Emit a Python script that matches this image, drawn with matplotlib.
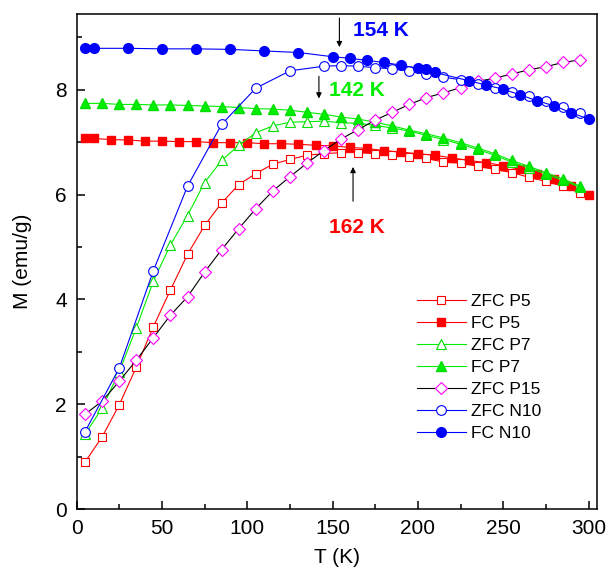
import numpy as np
import matplotlib.pyplot as plt

plt.rcParams['font.family'] = ['Liberation Sans', 'DejaVu Sans']

# temperatures (K)
t_zfc = [5, 15, 25, 35, 45, 55, 65, 75, 85, 95, 105, 115, 125, 135, 145,
         155, 165, 175, 185, 195, 205, 215, 225, 235, 245, 255, 265, 275, 285, 295]
t_fc_p5 = [5, 10, 20, 30, 40, 50, 60, 70, 80, 90, 100, 110, 120, 130, 140, 150,
           160, 170, 180, 190, 200, 210, 220, 230, 240, 250, 260, 270, 280, 290, 300]
t_fc_p7 = t_zfc
t_zfc_n10 = [5, 25, 45, 65, 85, 105, 125, 145, 155, 165, 175, 185, 195, 205,
             215, 225, 235, 245, 255, 265, 275, 285, 295]
t_fc_n10 = [5, 10, 30, 50, 70, 90, 110, 130, 150, 160, 170, 180, 190, 200, 205,
            210, 230, 240, 250, 260, 270, 280, 290, 300]

# magnetization (emu/g)
zfc_p5 = [0.90, 1.38, 1.99, 2.71, 3.48, 4.18, 4.86, 5.41, 5.84, 6.19, 6.40, 6.58,
          6.67, 6.75, 6.78, 6.80, 6.80, 6.78, 6.75, 6.72, 6.69, 6.62, 6.60, 6.54,
          6.48, 6.42, 6.33, 6.25, 6.16, 6.03]
fc_p5 = [7.07, 7.07, 7.05, 7.04, 7.02, 7.02, 7.01, 7.01, 6.99, 6.99, 6.99, 6.97,
         6.97, 6.96, 6.94, 6.93, 6.90, 6.88, 6.84, 6.81, 6.78, 6.75, 6.70, 6.65,
         6.61, 6.55, 6.48, 6.40, 6.30, 6.17, 6.00]
zfc_p7 = [1.43, 1.93, 2.62, 3.46, 4.35, 5.04, 5.60, 6.23, 6.65, 6.94, 7.18, 7.31,
          7.38, 7.39, 7.40, 7.37, 7.36, 7.32, 7.27, 7.21, 7.13, 7.05, 6.96, 6.86,
          6.75, 6.62, 6.51, 6.39, 6.27, 6.14]
fc_p7 = [7.74, 7.74, 7.72, 7.72, 7.71, 7.71, 7.70, 7.69, 7.68, 7.66, 7.64, 7.63,
         7.61, 7.57, 7.53, 7.48, 7.44, 7.38, 7.31, 7.23, 7.16, 7.08, 6.99, 6.89,
         6.78, 6.65, 6.54, 6.42, 6.30, 6.16]
zfc_p15 = [1.81, 2.06, 2.44, 2.84, 3.27, 3.70, 4.05, 4.52, 4.95, 5.35, 5.73, 6.07,
           6.34, 6.60, 6.84, 7.06, 7.24, 7.42, 7.57, 7.72, 7.85, 7.94, 8.04, 8.16,
           8.22, 8.30, 8.38, 8.44, 8.52, 8.57]
zfc_n10 = [1.48, 2.69, 4.55, 6.16, 7.34, 8.03, 8.36, 8.45, 8.46, 8.45, 8.42, 8.40,
           8.36, 8.30, 8.24, 8.19, 8.10, 8.04, 7.96, 7.88, 7.78, 7.68, 7.55]
fc_n10 = [8.79, 8.79, 8.79, 8.78, 8.78, 8.77, 8.74, 8.71, 8.63, 8.60, 8.56, 8.52,
          8.47, 8.41, 8.40, 8.33, 8.17, 8.09, 8.01, 7.90, 7.79, 7.69, 7.56, 7.44]

fig = plt.figure(figsize=(6.08, 5.72), dpi=100)
ax = fig.add_axes([0.126, 0.110, 0.856, 0.866])

lw = 0.8
mew = 0.8
ax.plot(t_zfc, zfc_p5, '-s', color='red', mfc='white', mec='red', ms=5.5, lw=lw, mew=mew, label='ZFC P5')
ax.plot(t_fc_p5, fc_p5, '-s', color='red', ms=5.5, lw=lw, label='FC P5')
ax.plot(t_zfc, zfc_p7, '-^', color='#00ee00', mfc='white', mec='#00dd00', ms=7, lw=lw, mew=mew, label='ZFC P7')
ax.plot(t_fc_p7, fc_p7, '-^', color='#00ee00', mec='#00dd00', ms=7, lw=lw, label='FC P7')
ax.plot(t_zfc, zfc_p15, '-D', color='black', mfc='white', mec='#ff00ff', ms=6, lw=lw, mew=mew, label='ZFC P15')
ax.plot(t_zfc_n10, zfc_n10, '-o', color='blue', mfc='white', mec='blue', ms=7, lw=lw, mew=mew, label='ZFC N10')
ax.plot(t_fc_n10, fc_n10, '-o', color='blue', ms=7, lw=lw, label='FC N10')

# transition temperatures
arrow = dict(arrowstyle='-|>', color='black', lw=0.8, mutation_scale=8)
ax.annotate('', xy=(154, 8.76), xytext=(154, 9.42), arrowprops=arrow)
ax.text(162, 9.13, '154 K', color='blue', fontsize=15, fontweight='bold', va='center')
ax.annotate('', xy=(142, 7.78), xytext=(142, 8.31), arrowprops=arrow)
ax.text(148, 7.98, '142 K', color='#00ee00', fontsize=15, fontweight='bold', va='center')
ax.annotate('', xy=(162, 6.58), xytext=(162, 5.82), arrowprops=arrow)
ax.text(148, 5.38, '162 K', color='red', fontsize=15, fontweight='bold', va='center')

ax.set_xlim(0, 305)
ax.set_ylim(0, 9.45)
ax.set_xticks(np.arange(0, 301, 50))
ax.set_xticks(np.arange(25, 301, 50), minor=True)
ax.set_yticks(np.arange(0, 9, 2))
ax.set_yticks(np.arange(1, 10, 2), minor=True)
ax.tick_params(direction='in', which='major', length=6, width=1.1, labelsize=15, pad=7)
ax.tick_params(direction='in', which='minor', length=3.5, width=1.1)
for s in ax.spines.values():
    s.set_linewidth(1.1)

ax.set_xlabel('T (K)', fontsize=15, labelpad=7)
ax.set_ylabel('M (emu/g)', fontsize=15, labelpad=17)

ax.legend(loc='center left', bbox_to_anchor=(0.654, 0.286), frameon=False,
          fontsize=12.5, handlelength=2.8, handletextpad=0.3, labelspacing=0.4,
          borderpad=0, borderaxespad=0)

plt.savefig('out.png', dpi=100)
